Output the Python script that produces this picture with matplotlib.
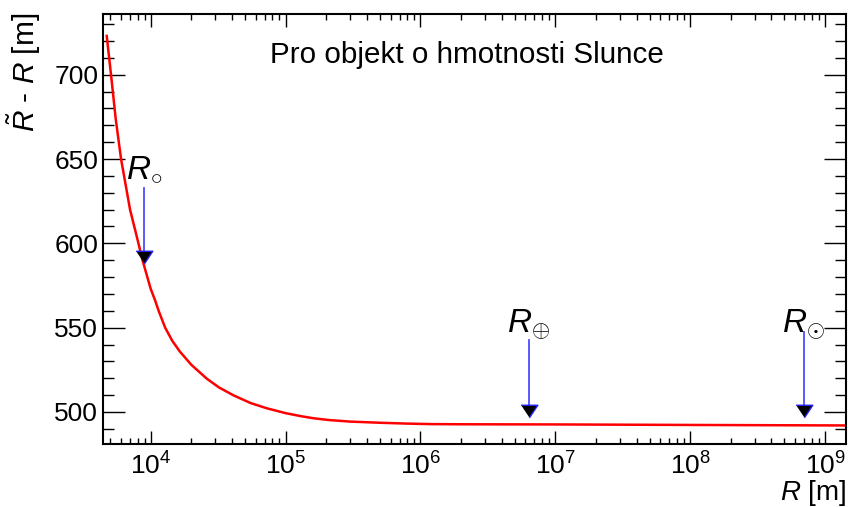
import numpy as np
import matplotlib
matplotlib.use("Agg")
import matplotlib.pyplot as plt
from matplotlib.ticker import LogLocator, MultipleLocator, NullFormatter

plt.rcParams['font.family'] = ['Liberation Sans', 'DejaVu Sans']
plt.rcParams['mathtext.fontset'] = 'custom'
plt.rcParams['mathtext.rm'] = 'Liberation Sans'
plt.rcParams['mathtext.it'] = 'Liberation Sans:italic'
plt.rcParams['mathtext.bf'] = 'Liberation Sans:bold'

# curve: R [m] vs R~ - R [m]
radius = [4.72e3, 5.08e3, 5.5e3, 6.03e3, 7.03e3, 8e3, 8.7e3, 1e4, 1.08e4, 1.15e4,
          1.28e4, 1.45e4, 1.65e4, 2e4, 2.6e4, 3.2e4, 4.1e4, 5.5e4, 7.25e4, 1e5,
          1.28e5, 1.6e5, 2.1e5, 3e5, 5e5, 8e5, 1.2e6, 2e6, 1e7, 1e8, 1.38e9]
delta = [723, 700, 674, 650, 620, 602, 590, 573, 566, 559.6,
         550, 542, 535.7, 528, 519.8, 514.6, 509.9, 505.3, 502.2, 499.3,
         497.6, 496.3, 495.2, 494.3, 493.6, 493.1, 492.8, 492.7, 492.6, 492.3, 492.0]

# marked objects
mark_R = [8.9e3, 6.37e6, 6.96e8]
mark_text = [r'$R_{\circ}$', r'$R_{\oplus}$', r'$R_{\odot}$']
arrow_top = [632.7, 542.5, 547.4]
arrow_tip = [588, 497, 497]
label_y = [638.5, 547.2, 547.2]

fig = plt.figure(figsize=(8.5, 5.07), dpi=100)
ax = fig.add_axes([103/850, 1-444/507, 743/850, 430/507])

ax.plot(radius, delta, color='red', lw=1.8)

head = [(-4, 3), (4, 3), (0, -3)]
for i in range(len(mark_R)):
    mid = arrow_tip[i] + 3.6
    ax.plot([mark_R[i], mark_R[i]], [arrow_top[i], mid + 3.6], color='#4d4dff', lw=1.3)
    ax.plot([mark_R[i]], [mid], marker=head, ms=12, mfc='black', mec='#2222ff', mew=1.0, ls='none')
    ax.text(mark_R[i], label_y[i], mark_text[i], fontsize=24, ha='center', va='baseline')

ax.set_xscale('log')
ax.set_xlim(4.43e3, 1.43e9)
ax.set_ylim(481, 736)
ax.xaxis.set_major_locator(LogLocator(base=10, numticks=20))
ax.xaxis.set_minor_locator(LogLocator(base=10, subs=np.arange(2, 10), numticks=20))
ax.xaxis.set_minor_formatter(NullFormatter())
ax.yaxis.set_major_locator(MultipleLocator(50))
ax.yaxis.set_minor_locator(MultipleLocator(10))

ax.tick_params(axis='both', which='both', direction='in', top=True, right=True, width=1, color='black')
ax.tick_params(axis='y', which='major', length=15.8, labelsize=19, pad=3.5)
ax.tick_params(axis='y', which='minor', length=7.9)
ax.tick_params(axis='x', which='major', length=9.4, labelsize=19, pad=6)
ax.tick_params(axis='x', which='minor', length=4.3)
for s in ax.spines.values():
    s.set_linewidth(1.5)

ax.text(0.49, 0.905, 'Pro objekt o hmotnosti Slunce', transform=ax.transAxes,
        fontsize=21.3, ha='center', va='center')

fig.text(43/850, 1-13/507, r'$\tilde{R}$ - $R$ [m]', rotation=90, fontsize=21.5, ha='right', va='top')
fig.text(846/850, 1-500/507, r'$R$ [m]', fontsize=20, ha='right', va='baseline')

fig.savefig('out.png', dpi=100)
